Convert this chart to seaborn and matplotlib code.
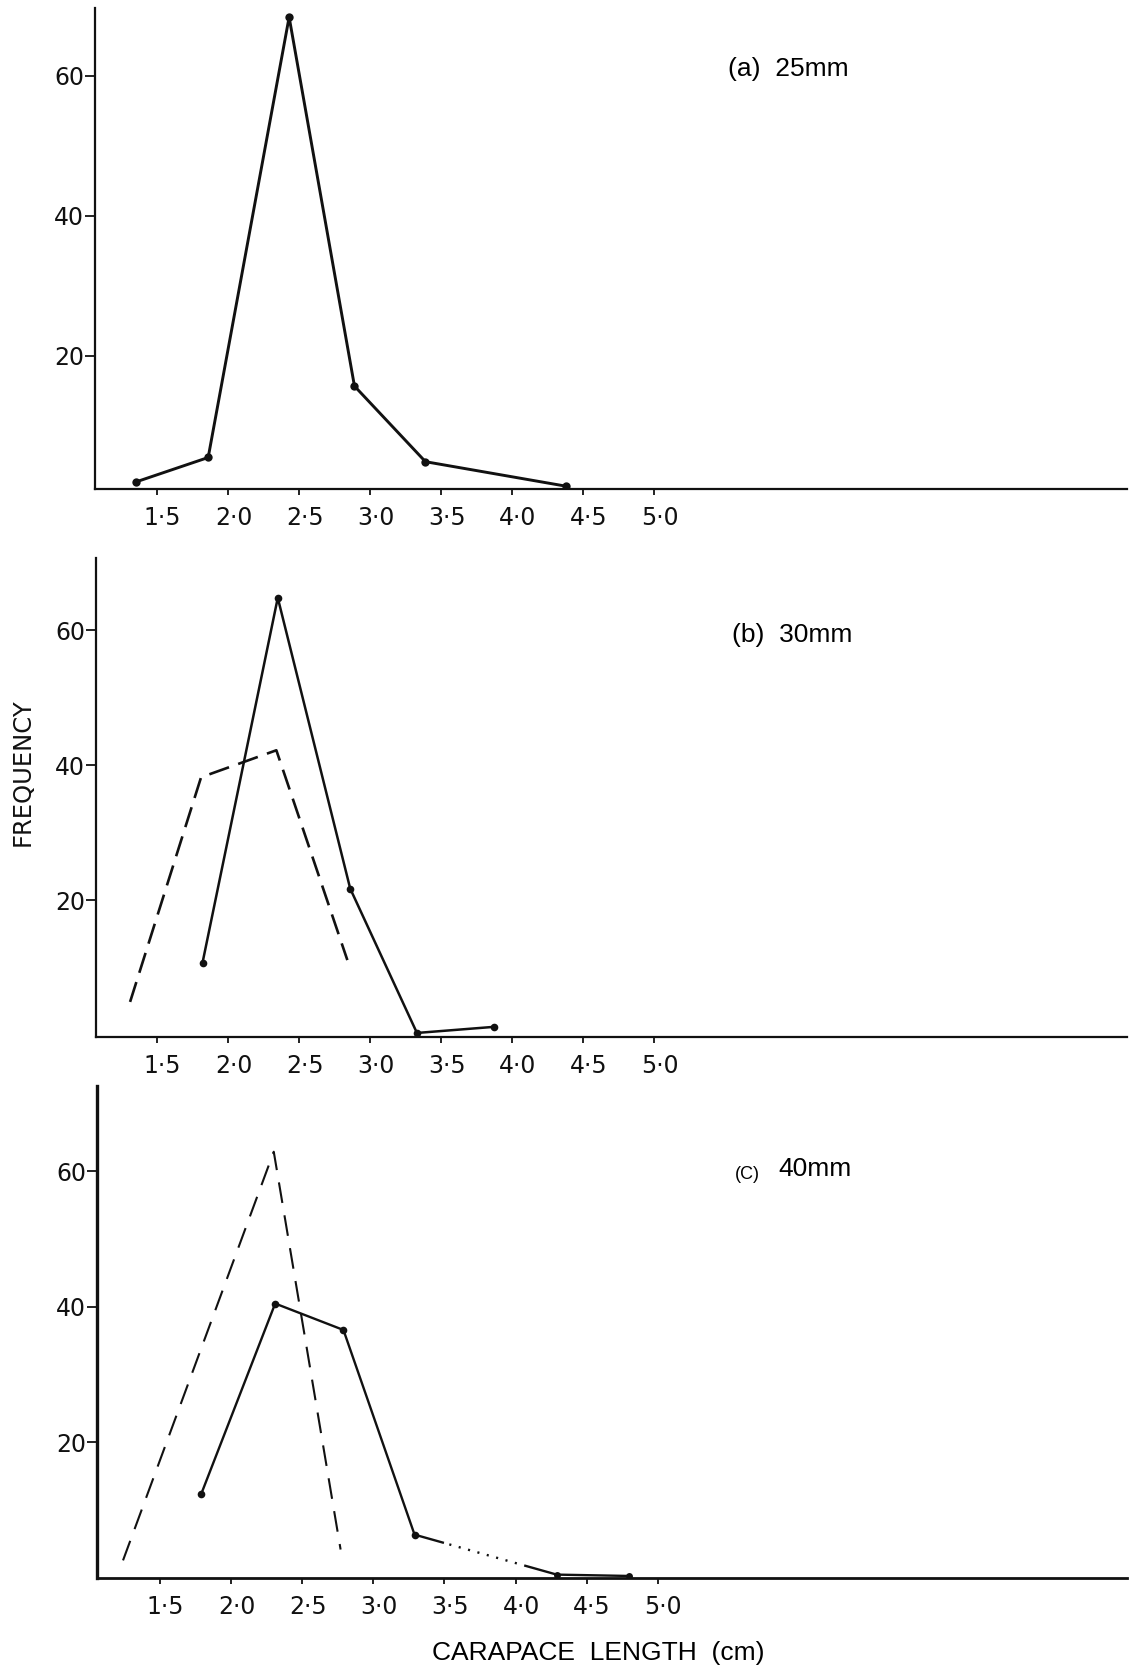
import matplotlib
matplotlib.use("Agg")
import matplotlib.pyplot as plt
import matplotlib.transforms as mtransforms
import seaborn as sns

# ---------------- data ----------------
x_tick_vals = [1.5, 2.0, 2.5, 3.0, 3.5, 4.0, 4.5, 5.0]
x_tick_labels = ["1\u00b75", "2\u00b70", "2\u00b75", "3\u00b70", "3\u00b75", "4\u00b70", "4\u00b75", "5\u00b70"]
y_tick_vals = [20, 40, 60]
y_tick_labels = ["20", "40", "60"]

# (a) 25 mm
a_x = [1.35, 1.86, 2.43, 2.89, 3.39, 4.38]
a_y = [2.0, 5.5, 68.4, 15.7, 4.9, 1.4]

# (b) 30 mm
b_solid_x = [1.82, 2.35, 2.86, 3.33, 3.87]
b_solid_y = [10.7, 64.8, 21.7, 0.3, 1.2]
b_dash_x = [1.31, 1.81, 2.34, 2.84]
b_dash_y = [4.9, 38.2, 42.2, 11.1]

# (c) 40 mm
c_solid_x = [1.79, 2.31, 2.79, 3.29, 4.29, 4.80]
c_solid_y = [12.4, 40.5, 36.6, 6.4, 0.5, 0.3]
c_dash_x = [1.24, 2.30, 2.77]
c_dash_y = [2.6, 62.9, 4.2]

panel_labels = ["(a)  25mm", "(b)  30mm", "40mm"]
small_label_c = "(C)"
ylabel_text = "FREQUENCY"
xlabel_text = "CARAPACE  LENGTH  (cm)"

# ---------------- style ----------------
sns.set_theme(style="ticks")
plt.rcParams["font.family"] = ["DejaVu Sans"]
plt.rcParams["lines.scale_dashes"] = False
INK = "#111111"

W, H = 1135, 1670
fig = plt.figure(figsize=(W / 100, H / 100), dpi=100)
fig.patch.set_facecolor("white")

def px_axes(left, right, top, bottom):
    return fig.add_axes([left / W, 1 - bottom / H, (right - left) / W, (bottom - top) / H])

ax_a = px_axes(95, 1127, 8, 489)
ax_b = px_axes(96, 1127, 558, 1037)
ax_c = px_axes(97, 1127, 1086, 1578)

xlims = [(1.063, 8.33), (1.07, 8.33), (1.057, 8.30)]
ylims = [(1.0, 69.7), (-0.3, 70.7), (0.0, 72.6)]

shift = mtransforms.ScaledTranslation(4 / 72, 0, fig.dpi_scale_trans)

for ax, xl, yl in zip([ax_a, ax_b, ax_c], xlims, ylims):
    ax.set_facecolor("white")
    ax.set_xlim(*xl)
    ax.set_ylim(*yl)
    sns.despine(ax=ax)
    for s in ("left", "bottom"):
        ax.spines[s].set_color(INK)
        ax.spines[s].set_linewidth(1.6)
    ax.set_xticks(x_tick_vals)
    ax.set_xticklabels(x_tick_labels)
    ax.set_yticks(y_tick_vals)
    ax.set_yticklabels(y_tick_labels)
    ax.tick_params(axis="x", direction="out", length=4.5, width=1.3, pad=8,
                   labelsize=17, colors=INK)
    ax.tick_params(axis="y", direction="out", length=7, width=1.3, pad=1,
                   labelsize=17, colors=INK)
    for lbl in ax.get_xticklabels():
        lbl.set_transform(lbl.get_transform() + shift)
    ax.set_xlabel("")
    ax.set_ylabel("")
    ax.grid(False)

ax_c.spines["left"].set_linewidth(2.4)
ax_c.spines["bottom"].set_linewidth(2.0)

common = dict(color=INK, sort=False, markeredgecolor=INK, markeredgewidth=0,
              legend=False)

# (a)
sns.lineplot(x=a_x, y=a_y, ax=ax_a, marker="o", markersize=6, lw=2.1, **common)

# (b)
sns.lineplot(x=b_solid_x, y=b_solid_y, ax=ax_b, marker="o", markersize=5.5,
             lw=1.8, **common)
sns.lineplot(x=b_dash_x, y=b_dash_y, ax=ax_b, lw=1.9,
             linestyle=(0, (15, 7)), **common)

# (c)
sns.lineplot(x=c_solid_x[:4], y=c_solid_y[:4], ax=ax_c, marker="o",
             markersize=5.5, lw=1.7, **common)
sns.lineplot(x=c_solid_x[3:5], y=c_solid_y[3:5], ax=ax_c, lw=1.7,
             linestyle=(0, [22, 4] + [1.5, 5.5] * 8 + [30, 2]), **common)
sns.lineplot(x=c_solid_x[4:], y=c_solid_y[4:], ax=ax_c, marker="o",
             markersize=5, lw=1.7, **common)
sns.lineplot(x=c_dash_x, y=c_dash_y, ax=ax_c, lw=1.5,
             linestyle=(0, (15, 9)), **common)

# panel labels
lab_font = dict(family=["Liberation Sans", "DejaVu Sans"], color="black")
ax_a.text(5.52, 61.0, panel_labels[0], fontsize=19, va="center", ha="left", **lab_font)
ax_b.text(5.55, 59.3, panel_labels[1], fontsize=19, va="center", ha="left", **lab_font)
ax_c.text(5.54, 59.6, small_label_c, fontsize=13, va="center", ha="left", **lab_font)
ax_c.text(5.85, 60.3, panel_labels[2], fontsize=19, va="center", ha="left", **lab_font)

# axis titles
fig.text(23 / W, 1 - 772 / H, ylabel_text, rotation=90, ha="center", va="center",
         fontsize=17.5, color=INK, family=["DejaVu Sans"])
fig.text(598 / W, 1 - 1653 / H, xlabel_text, ha="center", va="center",
         fontsize=19, color="black", family=["Liberation Sans", "DejaVu Sans"])

fig.savefig("out.png", dpi=100, facecolor="white")
